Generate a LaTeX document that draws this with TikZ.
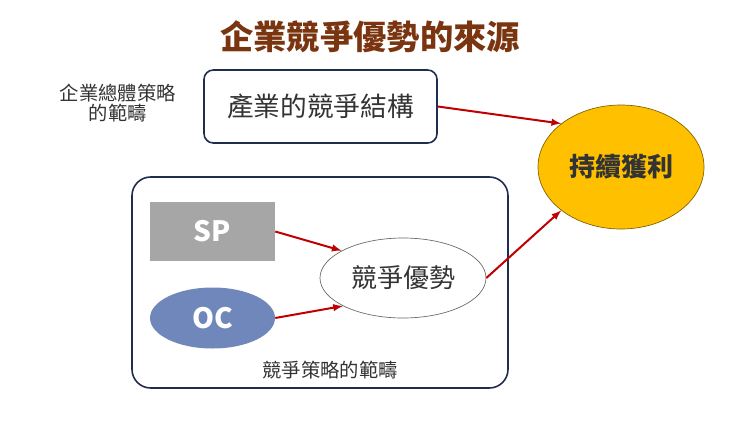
\documentclass[tikz,border=0pt]{standalone}
\usepackage{fontspec}
\usepackage{tikz}
\usetikzlibrary{shapes.geometric}
\newfontfamily\cjk{Noto Sans CJK TC}
\definecolor{titlebrown}{HTML}{7A3510}
\definecolor{boxnavy}{HTML}{1F2D4E}
\definecolor{arrowred}{HTML}{C00000}
\definecolor{profitgold}{HTML}{FFC000}
\definecolor{ocblue}{HTML}{6F87BA}
\definecolor{spgray}{HTML}{A6A6A6}
\definecolor{txtgray}{HTML}{333333}
\newcommand\fs[1]{\fontsize{#1}{#1}\selectfont}

\begin{document}
\begin{tikzpicture}[x=0.75pt, y=-0.75pt, font=\cjk, text=txtgray,
  frame/.style={draw=boxnavy, line width=1.2pt, rounded corners=7pt},
  link/.style={draw=arrowred, line width=1.5pt, -latex}]

\useasboundingbox[fill=white] (0,0) rectangle (740,422);

\node[text=titlebrown, font=\cjk\bfseries\fs{25}] (title) at (370,37) {企業競爭優勢的來源}; %title
\node[align=center, font=\cjk\fs{14.5}, text=txtgray] (corp) at (118,103) {企業總體策略\\的範疇};

\node[frame, minimum width=233*0.75pt, minimum height=73*0.75pt, font=\cjk\fs{20}] (ind) at (320.5,106.5) {產業的競爭結構};
\node[frame, rounded corners=14pt, minimum width=376*0.75pt, minimum height=211*0.75pt] (comp) at (320,282.5) {};
\node[font=\cjk\fs{14.5}] (complabel) at (330,370) {競爭策略的範疇};

\node[fill=spgray, minimum width=125*0.75pt, minimum height=59*0.75pt, text=white, font=\cjk\bfseries\fs{21}] (sp) at (212.5,231.5) {SP};
\node[ellipse, fill=ocblue, minimum width=125*0.75pt, minimum height=61*0.75pt, inner sep=0pt, text=white, font=\cjk\bfseries\fs{21}] (oc) at (212.5,318) {OC};
\node[ellipse, draw=gray!80!black, line width=0.5pt, fill=white, minimum width=166*0.75pt, minimum height=80*0.75pt, inner sep=0pt, font=\cjk\fs{19.5}] (adv) at (403,278) {競爭優勢};
\node[ellipse, draw=profitgold!50!black, line width=0.5pt, fill=profitgold, minimum width=166*0.75pt, minimum height=124*0.75pt, inner sep=0pt, font=\cjk\bfseries\fs{19.5}] (prof) at (621,167) {持續獲利};

\draw[link] (ind.east) -- (prof.144); %industry -> profit
\draw[link] (adv.east) -- (prof.216); %advantage -> profit
\draw[link] (sp.east) -- (adv.156); %SP
\draw[link] (oc.east) -- (adv.205); %OC
\end{tikzpicture}
\end{document}
